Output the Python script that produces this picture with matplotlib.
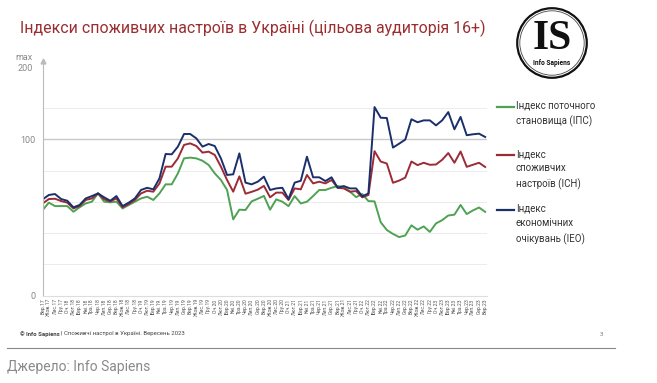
import matplotlib
matplotlib.use("Agg")
import matplotlib.pyplot as plt
from matplotlib.lines import Line2D
from matplotlib.patches import Circle

plt.rcParams['font.family'] = ['Roboto', 'DejaVu Sans']

months = ["Січ", "Лют", "Бер", "Кві", "Тра", "Чер", "Лип", "Сер", "Вер", "Жов", "Лис", "Гру"]
# Вер 2017 ... Вер 2023
labels = []
for k in range(73):
    m = (8 + k) % 12
    y = 17 + (8 + k) // 12
    labels.append(f"{months[m]}.{y}")

ips = [54.8, 59.5, 57.3, 57.3, 57.3, 53.7, 56.5, 59.0, 60.1, 65.4,
       60.1, 59.7, 60.1, 55.8, 58.0, 60.1, 62.2, 63.3, 61.2, 65.4,
       71.2, 71.2, 78.2, 87.8, 88.3, 87.8, 86.3, 83.6, 78.2, 74.0,
       67.6, 48.8, 55.0, 54.8, 60.3, 62.0, 63.8, 55.0, 61.6, 60.1,
       57.3, 63.7, 59.0, 60.1, 63.7, 67.6, 67.6, 69.0, 70.1, 69.6,
       66.5, 63.0, 65.0, 60.5, 60.3, 47.0, 42.0, 39.5, 37.5, 38.5,
       45.0, 42.2, 44.3, 40.8, 46.2, 48.3, 51.3, 51.8, 58.0, 52.2,
       54.5, 56.4, 53.6]
ich = [59.0, 61.8, 62.0, 60.5, 59.5, 55.8, 57.3, 61.2, 62.2, 65.4,
       61.6, 60.3, 62.2, 56.5, 58.6, 61.2, 65.4, 67.1, 66.5, 71.8,
       82.5, 82.5, 87.8, 96.4, 97.4, 95.7, 91.5, 92.1, 90.0, 82.5,
       74.0, 66.5, 76.3, 65.2, 66.4, 67.8, 70.2, 62.9, 65.9, 65.9,
       61.2, 68.6, 68.0, 77.2, 71.8, 72.9, 71.8, 74.0, 69.0, 68.6,
       66.5, 66.9, 62.9, 64.4, 92.4, 85.8, 84.5, 72.2, 73.6, 75.5,
       85.8, 83.5, 85.0, 83.7, 83.9, 86.9, 91.2, 85.0, 92.2, 82.4,
       83.7, 85.0, 82.3]
ieo = [61.6, 64.4, 65.0, 61.8, 60.7, 56.5, 58.0, 62.2, 63.7, 65.4,
       62.9, 60.7, 63.7, 57.3, 59.5, 62.2, 67.6, 69.0, 68.0, 75.0,
       90.6, 90.4, 95.3, 103.4, 103.4, 100.6, 95.3, 97.0, 95.7, 87.8,
       77.2, 77.6, 91.0, 72.3, 71.2, 72.9, 76.1, 67.6, 68.6, 69.0,
       61.8, 72.3, 73.5, 88.9, 75.7, 75.7, 73.3, 75.7, 69.0, 70.1,
       68.6, 68.6, 63.5, 65.4, 120.6, 113.8, 113.6, 94.7, 97.2, 99.8,
       112.8, 110.9, 112.1, 112.1, 108.9, 112.1, 117.4, 106.4, 114.3, 102.6,
       103.2, 103.6, 101.5]

c_green = "#4ea252"
c_red = "#9c2b36"
c_blue = "#1b2f6b"

fig = plt.figure(figsize=(6.57, 3.83), dpi=100)
ax = fig.add_axes([42.7 / 657, 1 - 295.7 / 383, (487 - 42.7) / 657, 234.6 / 383])

x = list(range(len(labels)))
ax.plot(x, ips, color=c_green, lw=1.4)
ax.plot(x, ich, color=c_red, lw=1.4)
ax.plot(x, ieo, color=c_blue, lw=1.4)

ax.set_xlim(0, 72.3)
ax.set_ylim(0, 150)
for g in [20, 40, 60, 80, 120]:
    ax.axhline(g, color="#ececec", lw=0.7, zorder=0)
ax.axhline(100, color="#c8c8c8", lw=1.0, zorder=0)
ax.set_yticks([0, 100])
ax.set_yticklabels(["0", "100"], fontsize=6.5, color="#888888")
ax.set_xticks(x)
ax.set_xticklabels(labels, rotation=90, fontsize=3.6, color="#555555")
ax.tick_params(length=0, pad=2)
ax.tick_params(axis="y", pad=5)
for s in ["top", "right"]:
    ax.spines[s].set_visible(False)
ax.spines["left"].set_color("#bbbbbb")
ax.spines["bottom"].set_color("#dddddd")
ax.spines["left"].set_linewidth(0.8)
ax.plot(0, 1, marker="^", color="#bbbbbb", ms=3.5, transform=ax.transAxes, clip_on=False)
ax.text(-0.022, 0.99, "max\n200", transform=ax.transAxes, ha="right", va="center",
        fontsize=6.5, color="#888888", linespacing=1.3)

# legend
leg = [(107, c_green, "Індекс поточного\nстановища (ІПС)"),
       (155, c_red, "Індекс\nспоживчих\nнастроїв (ІСН)"),
       (210, c_blue, "Індекс\nекономічних\nочікувань (ІЕО)")]
for yy, col, txt in leg:
    fy = 1 - yy / 383
    fig.add_artist(Line2D([497 / 657, 514 / 657], [fy, fy], color=col, lw=1.6))
    fig.text(516 / 657, fy + 6 / 383, txt, fontsize=7, color="#333333",
             va="top", ha="left", linespacing=1.55)

fig.text(20 / 657, 1 - 28 / 383, "Індекси споживчих настроїв в Україні (цільова аудиторія 16+)",
         fontsize=11.4, color="#9b2d30", va="center", ha="left")

# logo
lax = fig.add_axes([515 / 657, 1 - 80 / 383, 74 / 657, 74 / 383])
lax.set_xlim(-1, 1)
lax.set_ylim(-1, 1)
lax.set_aspect("equal")
lax.axis("off")
lax.add_patch(Circle((0, 0), 0.94, fill=False, lw=1.6, color="#111111"))
lax.add_patch(Circle((0, 0), 0.87, fill=False, lw=0.6, color="#444444"))
lax.text(0, 0.1, "IS", fontsize=30, family="Liberation Serif", weight="bold",
         ha="center", va="center", color="#111111")
lax.text(0, -0.55, "Info Sapiens", fontsize=4.8, ha="center", va="center", color="#111111",
         weight="bold")

# footer
fy = 1 - 334 / 383
fig.canvas.draw()
r = fig.canvas.get_renderer()
t1 = fig.text(20 / 657, fy, "© Info Sapiens", fontsize=4.3, color="#444444", va="center",
              weight="bold")
w = t1.get_window_extent(renderer=r).width
fig.text((20 + w + 1.5) / 657, fy, "| Споживчі настрої в Україні. Вересень 2023", fontsize=4.3,
         color="#444444", va="center")
fig.text(600 / 657, fy, "3", fontsize=4.3, color="#777777", va="center")
fig.add_artist(Line2D([7 / 657, 615 / 657], [1 - 348 / 383, 1 - 348 / 383], color="#888888", lw=0.8))
fig.text(7 / 657, 1 - 367 / 383, "Джерело: Info Sapiens", fontsize=10, color="#8a8a8a", va="center")

fig.savefig("out.png", dpi=100)
